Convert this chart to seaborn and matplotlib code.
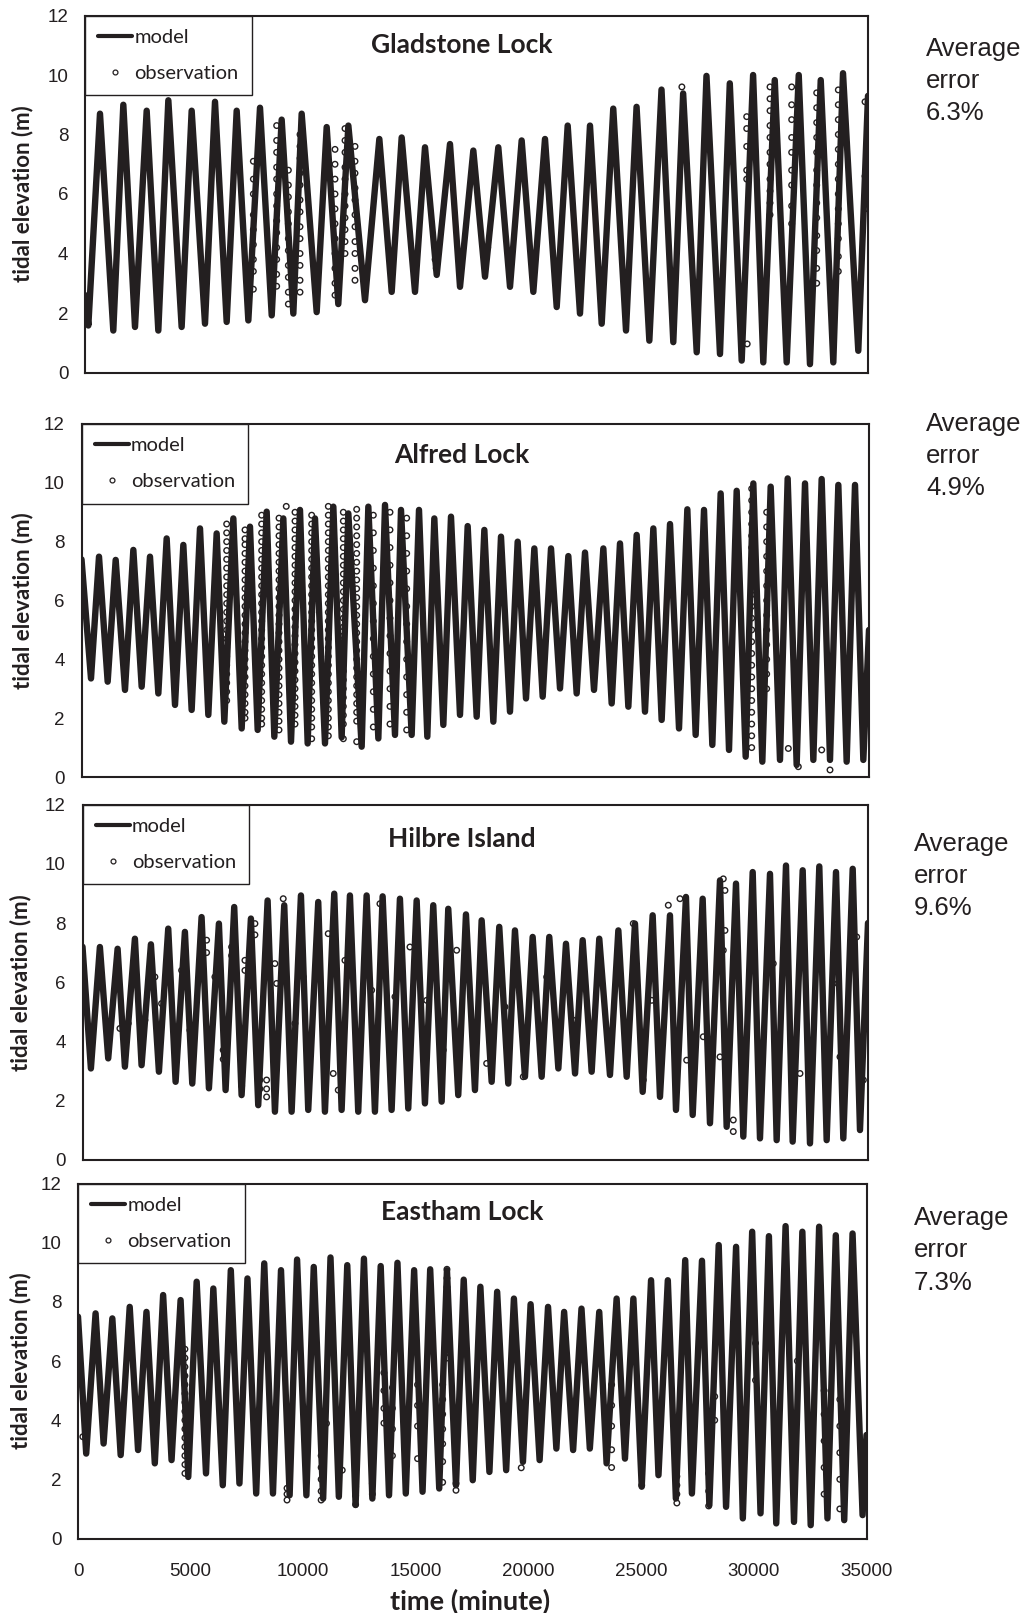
import numpy as np
import pandas as pd
import matplotlib
matplotlib.use("Agg")
import matplotlib.pyplot as plt
from matplotlib.lines import Line2D
import seaborn as sns

sns.set_style("white")
plt.rcParams["font.family"] = ["Lato", "DejaVu Sans"]

INK = "#231f20"

# ---------------- Gladstone Lock ----------------
glad_start = (0, 2.6)
glad_end = (35000, 9.3)
glad_hw_t = [670, 1713, 2757, 3725, 4768, 5811, 6780, 7823, 8791, 9685, 10803, 11772,
             13157, 14155, 15198, 16315, 17358, 18475, 19519, 20562, 21576, 22573,
             23613, 24655, 25770, 26737, 27780, 28822, 29864, 30832, 31904, 32887, 33883]
glad_hw_h = [8.7, 9.0, 8.8, 9.15, 8.8, 9.1, 8.8, 8.9, 8.5, 8.7, 8.25, 8.3,
             7.85, 7.9, 7.57, 7.68, 7.46, 7.57, 7.8, 7.85, 8.3, 8.3,
             8.87, 8.93, 9.51, 9.38, 9.97, 9.72, 10.0, 9.83, 10.0, 9.83, 10.06]
glad_lw_t = [149, 1265, 2235, 3277, 4320, 5364, 6333, 7301, 8346, 9312, 10356, 11322,
             12516, 13709, 14751, 15721, 16763, 17880, 18998, 20040, 21085, 22126,
             23096, 24183, 25226, 26297, 27343, 28384, 29354, 30319, 31365, 32406, 33449, 34566]
glad_lw_h = [1.58, 1.41, 1.53, 1.41, 1.53, 1.64, 1.7, 1.75, 1.92, 1.98, 2.03, 2.3,
             2.43, 2.71, 2.71, 3.28, 2.88, 3.22, 2.88, 2.71, 2.2, 1.98,
             1.64, 1.41, 1.07, 1.02, 0.68, 0.62, 0.4, 0.34, 0.34, 0.28, 0.34, 0.73]
glad_obs_t = [7525, 8567, 9090, 9611, 11175, 11622, 12069, 15650, 15700, 18000, 26680,
              29578, 29600, 30620, 31588, 32707, 33673, 34866]
glad_obs_h = [[7.1, 6.5, 6.0, 5.3, 4.8, 4.3, 3.8, 3.4, 2.8],
              [8.3, 7.8, 7.4, 6.9, 6.5, 6.0, 5.6, 5.1, 4.7, 4.2, 3.8, 3.3, 2.9],
              [6.8, 6.3, 5.9, 5.4, 5.0, 4.5, 4.1, 3.6, 3.2, 2.7, 2.3],
              [8.0, 7.6, 7.2, 6.7, 6.3, 5.8, 5.4, 4.9, 4.5, 4.0, 3.6, 3.1, 2.7],
              [7.5, 7.0, 6.5, 6.0, 5.5, 5.0, 4.5, 4.0, 3.5, 3.0, 2.6],
              [8.2, 7.8, 7.4, 6.9, 6.5, 6.0, 5.6, 5.2, 4.8, 4.4, 4.0],
              [7.6, 7.1, 6.7, 6.2, 5.8, 5.3, 4.9, 4.4, 4.0, 3.5, 3.1],
              [3.8], [3.5], [4.2], [9.6],
              [8.6, 8.2, 7.6, 6.8, 6.5],
              [0.96],
              [9.6, 9.2, 8.8, 8.3, 7.9, 7.4, 7.0, 6.5, 6.1, 5.7, 5.3],
              [9.6, 9.0, 8.5, 7.9, 7.4, 6.8, 6.3, 5.6, 5.0],
              [9.4, 8.9, 8.4, 7.9, 7.4, 6.8, 6.3, 5.7, 5.2, 4.6, 4.1, 3.5, 3.0],
              [9.5, 9.0, 8.5, 8.0, 7.5, 7.0, 6.5, 6.0, 5.5, 5.0, 4.5, 3.9, 3.4],
              [9.1, 6.6, 5.5]]

# ---------------- Alfred Lock ----------------
alf_start = (0, 7.4)
alf_end = (35000, 5.0)
alf_hw_t = [778, 1519, 2304, 3044, 3785, 4526, 5267, 6007, 6748, 7489, 8230, 8970, 9711, 10378, 11193, 11859,
            12748, 13489, 14200, 15000, 15681, 16422, 17163, 17904, 18644, 19385, 20126, 20867, 21637, 22378, 23193,
            23933, 24674, 25415, 26156, 26926, 27667, 28407, 29119, 29859, 30630, 31385, 32156, 32896, 33637, 34378]
alf_hw_h = [7.49, 7.38, 7.72, 7.49, 8.11, 7.89, 8.45, 8.28, 8.79, 8.51, 9.02, 8.79, 9.08, 8.79, 9.19, 8.96,
            9.19, 9.25, 9.08, 9.08, 8.79, 8.85, 8.53, 8.4, 8.17, 8.0, 7.77, 7.77, 7.51, 7.63, 7.77,
            7.94, 8.23, 8.45, 8.6, 9.1, 9.08, 9.64, 9.73, 9.98, 9.87, 10.15, 9.98, 10.13, 9.93, 9.93]
alf_lw_t = [422, 1163, 1933, 2674, 3415, 4156, 4896, 5637, 6348, 7119, 7830, 8570, 9311, 10052, 10822, 11563,
            12452, 13193, 13933, 14674, 15370, 16081, 16822, 17563, 18304, 19044, 19756, 20497, 21267, 22007, 22778,
            23563, 24304, 25044, 25785, 26556, 27296, 28037, 28778, 29519, 30259, 31044, 31785, 32526, 33267, 34007, 34748]
alf_lw_h = [3.35, 3.24, 2.96, 3.07, 2.84, 2.45, 2.28, 2.11, 1.88, 1.65, 1.6, 1.37, 1.2, 1.14, 1.14, 1.35,
            1.03, 1.31, 1.43, 1.43, 1.37, 1.77, 2.11, 2.05, 1.88, 2.22, 2.67, 2.73, 3.01, 2.84, 2.96,
            2.5, 2.39, 2.22, 1.94, 1.65, 1.43, 1.09, 0.92, 0.69, 0.52, 0.58, 0.41, 0.58, 0.58, 0.52, 0.58]
alf_obs_t = [6452, 7267, 8007, 8778, 9489, 10230, 10970, 11637, 12230, 12970, 13711, 14452,
             29786, 30452, 31415, 32897, 33267, 31859, 9100]
alf_obs_h = [[8.6, 8.3, 8.0, 7.7, 7.4, 7.1, 6.8, 6.5, 6.2, 5.9, 5.6, 5.3, 5.0, 4.7, 4.4, 4.1, 3.8, 3.5, 3.2, 2.9, 2.6],
             [8.4, 8.1, 7.9, 7.6, 7.3, 7.0, 6.7, 6.4, 6.1, 5.8, 5.5, 5.2, 4.9, 4.6, 4.3, 4.0, 3.7, 3.4, 3.1, 2.8, 2.5, 2.2, 2.0],
             [8.9, 8.6, 8.3, 8.0, 7.7, 7.4, 7.1, 6.8, 6.5, 6.2, 5.9, 5.6, 5.3, 5.0, 4.7, 4.4, 4.1, 3.8, 3.5, 3.2, 2.9, 2.6, 2.3, 2.0, 1.8],
             [8.8, 8.5, 8.2, 7.9, 7.6, 7.3, 7.0, 6.7, 6.4, 6.1, 5.8, 5.5, 5.2, 4.9, 4.6, 4.3, 4.0, 3.7, 3.4, 3.1, 2.8, 2.5, 2.2, 1.9, 1.6],
             [9.0, 8.7, 8.4, 8.1, 7.8, 7.5, 7.2, 6.9, 6.6, 6.3, 6.0, 5.7, 5.4, 5.1, 4.8, 4.5, 4.2, 3.9, 3.6, 3.3, 3.0, 2.7, 2.4, 2.1, 1.8],
             [8.9, 8.6, 8.3, 8.0, 7.7, 7.4, 7.1, 6.8, 6.5, 6.2, 5.9, 5.6, 5.3, 5.0, 4.7, 4.4, 4.1, 3.8, 3.5, 3.2, 2.9, 2.6, 2.3, 2.0, 1.7, 1.3],
             [9.2, 8.9, 8.6, 8.3, 8.0, 7.7, 7.4, 7.1, 6.8, 6.5, 6.2, 5.9, 5.6, 5.3, 5.0, 4.7, 4.4, 4.1, 3.8, 3.5, 3.2, 2.9, 2.6, 2.3, 2.0, 1.7, 1.4],
             [9.0, 8.7, 8.4, 8.1, 7.8, 7.5, 7.2, 6.9, 6.6, 6.3, 6.0, 5.7, 5.4, 5.1, 4.8, 4.5, 4.2, 3.9, 3.6, 3.3, 3.0, 2.7, 2.4, 2.1, 1.8, 1.3],
             [9.1, 8.8, 8.5, 8.2, 7.9, 7.6, 7.3, 7.0, 6.7, 6.4, 6.1, 5.8, 5.5, 5.2, 4.9, 4.6, 4.3, 4.0, 3.7, 3.4, 3.1, 2.8, 2.5, 2.2, 1.9, 1.2],
             [8.9, 8.3, 7.7, 7.1, 6.5, 5.9, 5.3, 4.7, 4.1, 3.5, 2.9, 2.3, 1.7],
             [9.0, 8.4, 7.8, 7.2, 6.6, 6.0, 5.4, 4.8, 4.2, 3.6, 3.0, 2.4, 1.8],
             [8.8, 8.2, 7.6, 7.0, 6.4, 5.8, 5.2, 4.6, 4.0, 3.4, 2.8, 2.2, 1.6],
             [9.8, 9.4, 9.0, 8.6, 8.2, 7.8, 7.4, 7.0, 6.6, 6.2, 5.8, 5.4, 5.0, 4.6, 4.2, 3.8, 3.4, 3.0, 2.6, 2.2, 1.8, 1.4, 1.0],
             [9.0, 8.5, 8.0, 7.5, 7.0, 6.5, 6.0, 5.5, 5.0, 4.5, 4.0, 3.5, 3.0],
             [0.97], [0.92], [0.24], [0.35], [9.2]]

# ---------------- Hilbre Island ----------------
hil_start = (0, 7.2)
hil_end = (35000, 8.0)
hil_hw_t = [775, 1564, 2335, 3048, 3820, 4563, 5306, 6078, 6760, 7504, 8248, 8989, 9733, 10504, 11217,
            11916, 12660, 13373, 14144, 14889, 15629, 16297, 17086, 17785, 18570, 19269, 20058, 20798, 21542, 22286, 23026,
            23876, 24617, 25405, 26176, 26889, 27633, 28405, 29118, 29862, 30633, 31346, 32090, 32830, 33574, 34318]
hil_hw_h = [7.19, 7.13, 7.47, 7.28, 7.81, 7.7, 8.2, 7.98, 8.54, 8.15, 8.76, 8.6, 8.93, 8.71, 8.99,
            8.93, 8.93, 8.9, 8.82, 8.76, 8.6, 8.48, 8.29, 8.09, 7.87, 7.75, 7.53, 7.53, 7.3, 7.42, 7.47,
            7.75, 7.98, 8.26, 8.26, 8.88, 8.82, 9.44, 9.33, 9.72, 9.66, 9.94, 9.78, 9.91, 9.72, 9.83]
hil_lw_t = [374, 1146, 1889, 2632, 3405, 4148, 4891, 5633, 6376, 7089, 7830, 8574, 9318, 10058, 10802,
            11546, 12286, 13030, 13774, 14515, 15258, 16003, 16743, 17487, 18231, 18971, 19715, 20459, 21203, 21947, 22687,
            23503, 24247, 24960, 25731, 26444, 27188, 27959, 28702, 29444, 30187, 30930, 31643, 32415, 33158, 33900, 34643]
hil_lw_h = [3.09, 3.43, 3.15, 3.2, 2.98, 2.64, 2.58, 2.42, 2.36, 2.19, 1.85, 1.63, 1.63, 1.69, 1.63,
            1.69, 1.63, 1.63, 1.69, 1.74, 1.91, 1.97, 2.19, 2.36, 2.64, 2.58, 2.81, 2.81, 3.09, 2.92, 2.98,
            2.87, 2.81, 2.3, 2.13, 1.69, 1.52, 1.24, 1.12, 0.79, 0.73, 0.67, 0.62, 0.56, 0.67, 0.73, 1.01]
hil_obs_t = [1667, 2037, 2781, 3226, 3523, 4416, 4786, 5530, 5900, 6270, 6644, 7090, 7237, 7683, 7905,
             8204, 8574, 8650, 8944, 9465, 9835, 10949, 11172, 11395,
             11693, 12883, 13253, 13922, 14590, 15334, 16074, 16671, 17411, 18008, 18824, 19640, 20682, 21868,
             24541, 24987, 25361, 26102, 26622, 26920, 27660, 28552, 28627, 28405, 28997, 30780, 31970,
             33455, 33752, 34496, 34793]
hil_obs_h = [[4.44], [4.61], [4.72], [6.18], [5.28], [6.4], [4.38], [7.42, 7.0], [6.18], [3.71, 3.4],
             [7.19, 6.9], [2.81, 2.5], [6.74, 6.4], [7.98, 7.6], [2.7, 2.4],
             [2.13, 2.4, 2.7], [6.63], [5.96], [8.82], [4.61], [6.18], [7.64], [2.92], [2.36],
             [6.74], [5.73], [8.65], [5.51], [7.19], [5.39], [3.71], [7.08], [4.61], [3.26], [5.17], [2.81],
             [6.18], [4.72],
             [7.98], [2.7], [5.39], [8.6], [8.82], [3.37], [4.16], [9.49, 7.08], [9.1, 7.75], [3.48],
             [1.35, 0.96], [6.63], [2.92], [5.96], [3.48], [7.53], [2.7]]

# ---------------- Eastham Lock ----------------
eas_start = (0, 7.5)
eas_end = (35000, 3.5)
eas_hw_t = [780, 1524, 2295, 3039, 3779, 4554, 5267, 6007, 6783, 7522, 8267, 9011, 9724, 10464, 11208, 11952,
            12692, 13436, 14180, 14920, 15633, 16377, 17121, 17861, 18605, 19349, 20090, 20864, 21578, 22349, 23137,
            23908, 24652, 25437, 26181, 26953, 27697, 28440, 29211, 29925, 30668, 31408, 32153, 32897, 33637, 34381]
eas_hw_h = [7.61, 7.44, 7.83, 7.66, 8.23, 8.06, 8.68, 8.45, 9.07, 8.79, 9.3, 9.07, 9.43, 9.18, 9.5, 9.24,
            9.46, 9.21, 9.32, 9.07, 9.1, 9.07, 8.75, 8.51, 8.34, 8.11, 7.92, 7.83, 7.66, 7.77, 7.66,
            8.11, 8.11, 8.73, 8.73, 9.41, 9.39, 9.92, 9.86, 10.37, 10.22, 10.56, 10.37, 10.54, 10.25, 10.31]
eas_lw_t = [364, 1136, 1894, 2666, 3409, 4153, 4894, 5682, 6426, 7166, 7910, 8654, 9394, 10138, 10882, 11578,
            12322, 13066, 13806, 14550, 15294, 16034, 16778, 17522, 18262, 19006, 19750, 20490, 21234, 21978, 22719, 23463,
            24279, 25022, 25766, 26538, 27250, 28024, 28766, 29510, 30296, 30994, 31782, 32523, 33267, 34011, 34826]
eas_lw_h = [2.87, 3.21, 2.82, 2.99, 2.54, 2.65, 2.08, 2.2, 1.8, 1.86, 1.52, 1.52, 1.46, 1.46, 1.35, 1.41,
            1.13, 1.35, 1.46, 1.52, 1.58, 1.69, 1.8, 1.97, 2.25, 2.31, 2.59, 2.65, 3.04, 2.99, 3.04, 2.54,
            2.7, 1.75, 2.14, 1.35, 1.52, 1.13, 1.07, 0.68, 0.85, 0.51, 0.56, 0.45, 0.68, 0.62, 0.79]
eas_obs_t = [4746, 9278, 10793, 214, 11030, 11729,
             12322, 13066, 13579, 13957, 15072, 16186, 16377, 16778, 19675,
             23686, 25022, 26582, 27994, 28262, 30072, 31931, 33119, 33816]
eas_obs_h = [[6.4, 6.1, 5.8, 5.5, 5.2, 4.9, 4.6, 4.3, 4.0, 3.7, 3.4, 3.1, 2.8, 2.5, 2.2],
             [1.7, 1.5, 1.3], [2.8, 2.4, 2.0, 1.6, 1.3], [3.44], [3.89], [2.31],
             [1.75, 1.45, 1.15], [1.86, 1.5], [5.6, 5.0, 4.4, 3.9], [5.1, 4.4, 3.7, 2.8],
             [5.2, 4.5, 3.8, 2.7], [5.2, 4.7, 4.2, 3.7, 3.2, 2.6, 1.9],
             [9.1, 8.8, 8.5, 8.2, 7.9, 7.6, 7.3, 7.0, 6.6, 6.3, 6.1], [1.86, 1.63], [2.39],
             [5.2, 4.5, 3.8, 3.0, 2.4], [3.2, 2.6, 1.8], [2.1, 1.8, 1.5, 1.2], [2.8, 2.2, 1.6, 1.1],
             [4.8, 4.0], [6.6, 5.35], [6.0], [5.0, 4.2, 3.3, 2.4, 1.5], [4.7, 3.8, 2.9, 2.0, 1.0]]

titles = ["Gladstone Lock", "Alfred Lock", "Hilbre Island", "Eastham Lock"]
errors = ["6.3%", "4.9%", "9.6%", "7.3%"]
xticks_top = [0, 7000, 14000, 21000, 28000, 35000]
xticks_std = [0, 5000, 10000, 15000, 20000, 25000, 30000, 35000]
yticks = [0, 2, 4, 6, 8, 10, 12]


def build_model(start, hw_t, hw_h, lw_t, lw_h, end):
    t = [start[0]] + hw_t + lw_t + [end[0]]
    h = [start[1]] + hw_h + lw_h + [end[1]]
    return pd.DataFrame({"time": t, "elev": h}).sort_values("time")


def build_obs(cols_t, cols_h):
    rows = [(t, h) for t, hs in zip(cols_t, cols_h) for h in hs]
    return pd.DataFrame(rows, columns=["time", "elev"])


models = [build_model(glad_start, glad_hw_t, glad_hw_h, glad_lw_t, glad_lw_h, glad_end),
          build_model(alf_start, alf_hw_t, alf_hw_h, alf_lw_t, alf_lw_h, alf_end),
          build_model(hil_start, hil_hw_t, hil_hw_h, hil_lw_t, hil_lw_h, hil_end),
          build_model(eas_start, eas_hw_t, eas_hw_h, eas_lw_t, eas_lw_h, eas_end)]
observations = [build_obs(glad_obs_t, glad_obs_h), build_obs(alf_obs_t, alf_obs_h),
                build_obs(hil_obs_t, hil_obs_h), build_obs(eas_obs_t, eas_obs_h)]

W, H = 1025, 1613
fig = plt.figure(figsize=(W / 100, H / 100), dpi=100)

# panel boxes in pixels: left, right, top, bottom
boxes = [(85, 868, 15.5, 372.5), (81.5, 869, 424, 777), (82.5, 868, 804.5, 1160), (78, 866.5, 1183.5, 1538.5)]
ylab_x = [23, 22.6, 20.6, 20.6]
title_y = [45, 455, 839, 1212]
err_x = [926, 926, 914, 914]
err_y = [(49, 81, 113), (424, 456, 488), (844, 876, 908), (1218, 1250, 1283)]

for i in range(4):
    l, r, t, b = boxes[i]
    ax = fig.add_axes([l / W, 1 - b / H, (r - l) / W, (b - t) / H])
    sns.lineplot(data=models[i], x="time", y="elev", ax=ax, color=INK, lw=4.6,
                 estimator=None, sort=True, legend=False, solid_joinstyle="round")
    sns.scatterplot(data=observations[i], x="time", y="elev", ax=ax, marker="o", s=16,
                    linewidth=1.0, legend=False, zorder=3)
    pts = ax.collections[-1]
    pts.set_facecolor("none")
    pts.set_edgecolor(INK)

    ax.set_xlim(0, 35000)
    ax.set_ylim(0, 12)
    ax.set_yticks(yticks)
    ax.set_xticks(xticks_top if i == 0 else xticks_std)
    ax.set_xlabel("")
    ax.set_ylabel("")
    for sp in ax.spines.values():
        sp.set_visible(True)
        sp.set_color(INK)
        sp.set_linewidth(1.5)
    ax.tick_params(axis="x", direction="in", length=4, width=1.2, color=INK,
                   labelbottom=(i == 3), labelsize=13.5, pad=18, labelcolor=INK)
    ax.tick_params(axis="y", length=0, labelsize=13.5, pad=12, labelcolor=INK)
    for lab in ax.get_xticklabels() + ax.get_yticklabels():
        lab.set_fontfamily("Liberation Sans")

    handles = [Line2D([], [], color=INK, lw=3),
               Line2D([], [], ls="none", marker="o", mfc="none", mec=INK, ms=3.5, mew=0.9)]
    leg = ax.legend(handles, ["model", "observation"], loc="upper left", bbox_to_anchor=(0, 1),
                    borderaxespad=0, frameon=True, fancybox=False, edgecolor=INK, framealpha=1,
                    handlelength=1.7, handletextpad=0.1, labelspacing=0.95, borderpad=0.65,
                    prop={"family": "Lato", "size": 14.5})
    leg.get_frame().set_linewidth(1.0)
    for txt in leg.get_texts():
        txt.set_color(INK)

    fig.text(ylab_x[i] / W, 1 - ((t + b) / 2) / H, "tidal elevation (m)", rotation=90,
             ha="center", va="center", fontsize=16, fontweight="bold", color=INK)
    fig.text(462 / W, 1 - title_y[i] / H, titles[i], ha="center", va="center",
             fontsize=19, fontweight="bold", color=INK)
    for line, yy in zip(["Average", "error", errors[i]], err_y[i]):
        fig.text(err_x[i] / W, 1 - yy / H, line, ha="left", va="center", fontsize=18.5,
                 family="Liberation Sans", color=INK)

fig.text(470 / W, 1 - 1601 / H, "time (minute)", ha="center", va="center",
         fontsize=19.5, fontweight="bold", color=INK)

fig.savefig("out.png", dpi=100)
